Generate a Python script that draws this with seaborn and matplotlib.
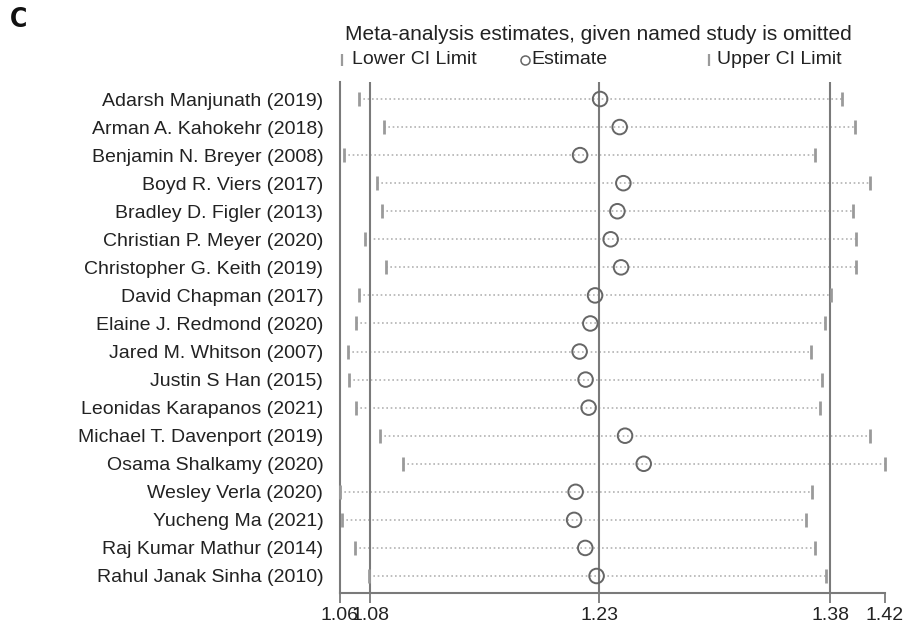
import numpy as np
import pandas as pd
import matplotlib
matplotlib.use("Agg")
import matplotlib.pyplot as plt
from matplotlib.lines import Line2D
import seaborn as sns

# ---------------- data ----------------
studies = [
    "Adarsh Manjunath (2019)",
    "Arman A. Kahokehr (2018)",
    "Benjamin N. Breyer (2008)",
    "Boyd R. Viers (2017)",
    "Bradley D. Figler (2013)",
    "Christian P. Meyer (2020)",
    "Christopher G. Keith (2019)",
    "David Chapman (2017)",
    "Elaine J. Redmond (2020)",
    "Jared M. Whitson (2007)",
    "Justin S Han (2015)",
    "Leonidas Karapanos (2021)",
    "Michael T. Davenport (2019)",
    "Osama Shalkamy (2020)",
    "Wesley Verla (2020)",
    "Yucheng Ma (2021)",
    "Raj Kumar Mathur (2014)",
    "Rahul Janak Sinha (2010)",
]
lower = [1.0727, 1.0895, 1.0633, 1.0844, 1.0880, 1.0771, 1.0903, 1.0731, 1.0710,
         1.0659, 1.0664, 1.0712, 1.0864, 1.1014, 1.0605, 1.0618, 1.0701, 1.0792]
estimate = [1.2305, 1.2433, 1.2174, 1.2457, 1.2418, 1.2374, 1.2442, 1.2272, 1.2241,
            1.2171, 1.2210, 1.2230, 1.2468, 1.2590, 1.2145, 1.2135, 1.2208, 1.2282]
upper = [1.3884, 1.3973, 1.3712, 1.4069, 1.3958, 1.3978, 1.3978, 1.3814, 1.3773,
         1.3684, 1.3756, 1.3743, 1.4069, 1.4167, 1.3690, 1.3648, 1.3708, 1.3784]
overall = [1.0803, 1.2300, 1.3808]          # overall lower CI, estimate, upper CI
tick_labels = ["1.06", "1.08", "1.23", "1.38", "1.42"]

title = "Meta-analysis estimates, given named study is omitted"
legend_labels = ["Lower CI Limit", "Estimate", "Upper CI Limit"]
panel_label = "C"

df = pd.DataFrame({"study": studies, "lower": lower,
                   "estimate": estimate, "upper": upper})
df["row"] = np.arange(len(df))

# ---------------- style ----------------
sns.set_style("white")
plt.rcParams["font.family"] = ["Liberation Sans", "DejaVu Sans"]

REF = "#7a7a7a"
CI = "#9a9a9a"
DOT = "#b3b3b3"
CIRC = "#666666"
TXT = "#222222"
FS = 14

fig = plt.figure(figsize=(9.12, 6.28), dpi=100)
W, H = 912, 628
ax = fig.add_axes([340 / W, 35 / H, 545 / W, 511 / H])

# dotted CI lines
ax.hlines(df["row"], df["lower"], df["upper"], colors=DOT,
          linestyles=(0, (1, 1.6)), lw=1.2, zorder=1)
# overall reference lines
for v in overall:
    ax.axvline(v, color=REF, lw=1.5, zorder=2)

# CI limits
sns.scatterplot(data=df, x="lower", y="row", marker="|", s=100,
                color=CI, linewidth=2, ax=ax, zorder=3, clip_on=False)
sns.scatterplot(data=df, x="upper", y="row", marker="|", s=100,
                color=CI, linewidth=2, ax=ax, zorder=3, clip_on=False)
# estimates
sns.scatterplot(data=df, x="estimate", y="row", marker="o", s=110,
                color=CIRC, facecolor="none", edgecolor=CIRC,
                linewidth=1.4, ax=ax, zorder=4, clip_on=False)

xticks = [min(lower), overall[0], overall[1], overall[2], max(upper)]
ax.set_xlim(min(lower), max(upper))
ax.set_ylim(len(df) - 1 + 0.606, -0.606)
ax.set_xticks(xticks, labels=tick_labels)
ax.set_yticks(df["row"], labels=df["study"])
ax.set_xlabel("")
ax.set_ylabel("")

for s in ["top", "right"]:
    ax.spines[s].set_visible(False)
for s in ["left", "bottom"]:
    ax.spines[s].set_color(REF)
    ax.spines[s].set_linewidth(1.5)

ax.tick_params(axis="x", direction="out", length=7, width=1.3, color=REF,
               labelsize=FS, labelcolor=TXT, pad=3, bottom=True)
ax.tick_params(axis="y", length=0, pad=12, labelsize=FS, labelcolor=TXT)

# ---------------- title / legend ----------------
fig.text(345 / W, 1 - 34 / H, title, fontsize=15, color=TXT,
         ha="left", va="center")
ly = 1 - 60 / H
fig.add_artist(Line2D([342 / W], [ly], marker="|", ms=8, mew=1.6,
                      color=CI, transform=fig.transFigure))
fig.text(352 / W, ly, legend_labels[0], fontsize=FS, color=TXT,
         ha="left", va="center")
fig.add_artist(Line2D([525 / W], [ly], marker="o", ms=6.5, mew=1.1,
                      mfc="none", mec=CIRC, transform=fig.transFigure))
fig.text(531 / W, ly, legend_labels[1], fontsize=FS, color=TXT,
         ha="left", va="center")
fig.add_artist(Line2D([709 / W], [ly], marker="|", ms=8, mew=1.6,
                      color=CI, transform=fig.transFigure))
fig.text(717 / W, ly, legend_labels[2], fontsize=FS, color=TXT,
         ha="left", va="center")

fig.text(10 / W, 1 - 20 / H, panel_label, fontsize=19, fontweight="bold",
         family="DejaVu Sans", fontstretch="condensed",
         color="#111111", ha="left", va="center")

fig.savefig("out.png", dpi=100, facecolor="white")
